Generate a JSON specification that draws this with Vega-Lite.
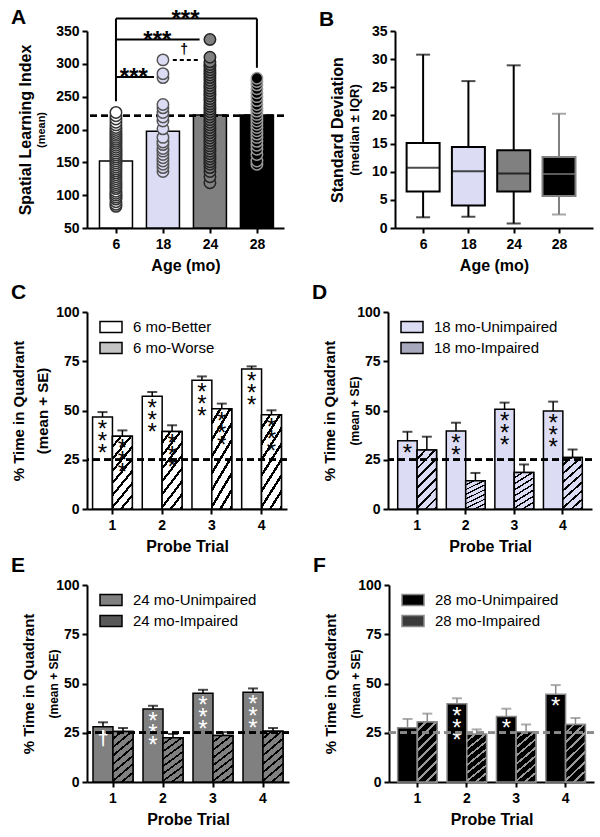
{
"$schema": "https://vega.github.io/schema/vega-lite/v6.json",
"background": "white",
"padding": {"left": 11, "top": 6, "right": 2, "bottom": 2},
"config": {
  "font": "Liberation Sans",
  "view": {"stroke": null},
  "axis": {"domainColor": "black", "domainWidth": 2, "tickColor": "black", "tickWidth": 2, "tickSize": 5, "labelFont": "Liberation Sans", "labelFontSize": 14, "labelFontWeight": "bold", "labelColor": "black", "titleFont": "Liberation Sans", "titleFontSize": 16, "titleFontWeight": "bold", "titleColor": "black", "grid": false, "labelPadding": 3, "labelOverlap": false},
  "axisX": {"labelPadding": 4, "titlePadding": 6, "labelAngle": 0},
  "title": {"anchor": "start", "frame": "group", "fontSize": 21, "fontWeight": "bold", "color": "black", "dx": -76, "offset": 2, "font": "Liberation Sans"},
  "legend": {"orient": "none", "legendX": 12, "legendY": 3, "symbolType": "M-1,-0.5H1V0.5H-1Z", "symbolSize": 484, "symbolStrokeWidth": 1.5, "labelFontSize": 15, "labelColor": "black", "labelOffset": 10, "rowPadding": 0, "labelFont": "Liberation Sans"}
},
"datasets": {
  "aMeans": [{"pos": 1, "mean": 152}, {"pos": 2, "mean": 197.5}, {"pos": 3, "mean": 222}, {"pos": 4, "mean": 222}],
  "aPoints": [
    {"pos": 1, "v": 83}, {"pos": 1, "v": 86}, {"pos": 1, "v": 90}, {"pos": 1, "v": 94}, {"pos": 1, "v": 97}, {"pos": 1, "v": 100}, {"pos": 1, "v": 103}, {"pos": 1, "v": 106}, {"pos": 1, "v": 110}, {"pos": 1, "v": 113}, {"pos": 1, "v": 116}, {"pos": 1, "v": 119}, {"pos": 1, "v": 122}, {"pos": 1, "v": 125}, {"pos": 1, "v": 128}, {"pos": 1, "v": 131}, {"pos": 1, "v": 134}, {"pos": 1, "v": 137}, {"pos": 1, "v": 140}, {"pos": 1, "v": 143}, {"pos": 1, "v": 146}, {"pos": 1, "v": 149}, {"pos": 1, "v": 152}, {"pos": 1, "v": 155}, {"pos": 1, "v": 158}, {"pos": 1, "v": 161}, {"pos": 1, "v": 164}, {"pos": 1, "v": 167}, {"pos": 1, "v": 170}, {"pos": 1, "v": 173}, {"pos": 1, "v": 176}, {"pos": 1, "v": 179}, {"pos": 1, "v": 182}, {"pos": 1, "v": 185}, {"pos": 1, "v": 188}, {"pos": 1, "v": 191}, {"pos": 1, "v": 194}, {"pos": 1, "v": 197}, {"pos": 1, "v": 200}, {"pos": 1, "v": 203}, {"pos": 1, "v": 207}, {"pos": 1, "v": 211}, {"pos": 1, "v": 216}, {"pos": 1, "v": 221}, {"pos": 1, "v": 226},
    {"pos": 2, "v": 136}, {"pos": 2, "v": 142}, {"pos": 2, "v": 147}, {"pos": 2, "v": 152}, {"pos": 2, "v": 157}, {"pos": 2, "v": 162}, {"pos": 2, "v": 167}, {"pos": 2, "v": 171}, {"pos": 2, "v": 177}, {"pos": 2, "v": 181}, {"pos": 2, "v": 188}, {"pos": 2, "v": 201}, {"pos": 2, "v": 213}, {"pos": 2, "v": 219}, {"pos": 2, "v": 226}, {"pos": 2, "v": 233}, {"pos": 2, "v": 238}, {"pos": 2, "v": 279}, {"pos": 2, "v": 285}, {"pos": 2, "v": 306},
    {"pos": 3, "v": 119}, {"pos": 3, "v": 128}, {"pos": 3, "v": 136}, {"pos": 3, "v": 142}, {"pos": 3, "v": 147}, {"pos": 3, "v": 151}, {"pos": 3, "v": 155}, {"pos": 3, "v": 159}, {"pos": 3, "v": 163}, {"pos": 3, "v": 167}, {"pos": 3, "v": 171}, {"pos": 3, "v": 175}, {"pos": 3, "v": 179}, {"pos": 3, "v": 183}, {"pos": 3, "v": 187}, {"pos": 3, "v": 191}, {"pos": 3, "v": 195}, {"pos": 3, "v": 199}, {"pos": 3, "v": 203}, {"pos": 3, "v": 207}, {"pos": 3, "v": 211}, {"pos": 3, "v": 215}, {"pos": 3, "v": 219}, {"pos": 3, "v": 223}, {"pos": 3, "v": 227}, {"pos": 3, "v": 231}, {"pos": 3, "v": 235}, {"pos": 3, "v": 239}, {"pos": 3, "v": 243}, {"pos": 3, "v": 247}, {"pos": 3, "v": 251}, {"pos": 3, "v": 255}, {"pos": 3, "v": 259}, {"pos": 3, "v": 263}, {"pos": 3, "v": 267}, {"pos": 3, "v": 271}, {"pos": 3, "v": 275}, {"pos": 3, "v": 279}, {"pos": 3, "v": 283}, {"pos": 3, "v": 287}, {"pos": 3, "v": 291}, {"pos": 3, "v": 295}, {"pos": 3, "v": 299}, {"pos": 3, "v": 303}, {"pos": 3, "v": 310}, {"pos": 3, "v": 337},
    {"pos": 4, "v": 147}, {"pos": 4, "v": 152}, {"pos": 4, "v": 162}, {"pos": 4, "v": 170}, {"pos": 4, "v": 176}, {"pos": 4, "v": 182}, {"pos": 4, "v": 188}, {"pos": 4, "v": 193}, {"pos": 4, "v": 198}, {"pos": 4, "v": 203}, {"pos": 4, "v": 208}, {"pos": 4, "v": 213}, {"pos": 4, "v": 218}, {"pos": 4, "v": 223}, {"pos": 4, "v": 228}, {"pos": 4, "v": 233}, {"pos": 4, "v": 238}, {"pos": 4, "v": 244}, {"pos": 4, "v": 250}, {"pos": 4, "v": 256}, {"pos": 4, "v": 262}, {"pos": 4, "v": 268}, {"pos": 4, "v": 273}, {"pos": 4, "v": 278}
  ],
  "aBrackets": [
    {"x": 1, "x2": 4, "y": 369, "y2": 369}, {"x": 1, "x2": 1, "y": 369, "y2": 243}, {"x": 4, "x2": 4, "y": 369, "y2": 294},
    {"x": 1, "x2": 2.78, "y": 337, "y2": 337}, {"x": 1, "x2": 1.81, "y": 280, "y2": 280}
  ],
  "aDash": [{"x": 2.21, "x2": 2.78, "y": 306}],
  "aStars": [{"x": 2.48, "y": 369, "label": "***"}, {"x": 1.88, "y": 337, "label": "***"}, {"x": 1.38, "y": 280, "label": "***"}],
  "aDagger": [{"x": 2.45, "y": 306, "label": "†"}],
  "bBox": [
    {"pos": 1, "min": 1.9, "q1": 6.5, "med": 10.7, "q3": 15.1, "max": 30.8},
    {"pos": 2, "min": 2.0, "q1": 4.0, "med": 10.1, "q3": 14.4, "max": 26.1},
    {"pos": 3, "min": 0.8, "q1": 6.5, "med": 9.7, "q3": 13.8, "max": 28.9},
    {"pos": 4, "min": 2.4, "q1": 5.7, "med": 9.6, "q3": 12.6, "max": 20.3}
  ],
  "cData": [
    {"trial": 1, "group": "6 mo-Better", "mean": 46.7, "upper": 49.2, "stars": "*\n*\n*"},
    {"trial": 2, "group": "6 mo-Better", "mean": 57.2, "upper": 59.4, "stars": "*\n*\n*"},
    {"trial": 3, "group": "6 mo-Better", "mean": 65.3, "upper": 67.3, "stars": "*\n*\n*"},
    {"trial": 4, "group": "6 mo-Better", "mean": 71.1, "upper": 72.4, "stars": "*\n*\n*"},
    {"trial": 1, "group": "6 mo-Worse", "mean": 36.9, "upper": 39.9, "stars": "*\n*\n*"},
    {"trial": 2, "group": "6 mo-Worse", "mean": 39.4, "upper": 42.5, "stars": "*\n*\n*"},
    {"trial": 3, "group": "6 mo-Worse", "mean": 50.9, "upper": 53.5, "stars": "*\n*\n*"},
    {"trial": 4, "group": "6 mo-Worse", "mean": 47.9, "upper": 50.1, "stars": "*\n*\n*"}
  ],
  "dData": [
    {"trial": 1, "group": "18 mo-Unimpaired", "mean": 34.6, "upper": 39.2, "stars": "*"},
    {"trial": 2, "group": "18 mo-Unimpaired", "mean": 39.6, "upper": 43.8, "stars": "*\n*"},
    {"trial": 3, "group": "18 mo-Unimpaired", "mean": 50.6, "upper": 54.0, "stars": "*\n*\n*"},
    {"trial": 4, "group": "18 mo-Unimpaired", "mean": 49.7, "upper": 54.5, "stars": "*\n*\n*"},
    {"trial": 1, "group": "18 mo-Impaired", "mean": 29.9, "upper": 36.7, "stars": ""},
    {"trial": 2, "group": "18 mo-Impaired", "mean": 14.3, "upper": 18.3, "stars": ""},
    {"trial": 3, "group": "18 mo-Impaired", "mean": 18.5, "upper": 22.6, "stars": ""},
    {"trial": 4, "group": "18 mo-Impaired", "mean": 26.1, "upper": 30.2, "stars": ""}
  ],
  "eData": [
    {"trial": 1, "group": "24 mo-Unimpaired", "mean": 28.1, "upper": 30.3, "stars": ""},
    {"trial": 2, "group": "24 mo-Unimpaired", "mean": 37.0, "upper": 38.7, "stars": "*\n*\n*"},
    {"trial": 3, "group": "24 mo-Unimpaired", "mean": 45.0, "upper": 46.8, "stars": "*\n*\n*"},
    {"trial": 4, "group": "24 mo-Unimpaired", "mean": 45.5, "upper": 47.5, "stars": "*\n*\n*"},
    {"trial": 1, "group": "24 mo-Impaired", "mean": 25.6, "upper": 27.4, "stars": ""},
    {"trial": 2, "group": "24 mo-Impaired", "mean": 22.4, "upper": 24.4, "stars": ""},
    {"trial": 3, "group": "24 mo-Impaired", "mean": 23.6, "upper": 25.3, "stars": ""},
    {"trial": 4, "group": "24 mo-Impaired", "mean": 25.8, "upper": 27.4, "stars": ""}
  ],
  "eDagger": [{"trial": 1, "group": "24 mo-Unimpaired", "mean": 28.1, "label": "†"}],
  "fData": [
    {"trial": 1, "group": "28 mo-Unimpaired", "mean": 27.5, "upper": 32.0, "stars": ""},
    {"trial": 2, "group": "28 mo-Unimpaired", "mean": 39.7, "upper": 42.5, "stars": "*\n*\n*"},
    {"trial": 3, "group": "28 mo-Unimpaired", "mean": 33.3, "upper": 37.2, "stars": "*"},
    {"trial": 4, "group": "28 mo-Unimpaired", "mean": 44.5, "upper": 49.2, "stars": "*"},
    {"trial": 1, "group": "28 mo-Impaired", "mean": 30.5, "upper": 34.7, "stars": ""},
    {"trial": 2, "group": "28 mo-Impaired", "mean": 24.2, "upper": 26.7, "stars": ""},
    {"trial": 3, "group": "28 mo-Impaired", "mean": 25.5, "upper": 29.2, "stars": ""},
    {"trial": 4, "group": "28 mo-Impaired", "mean": 29.2, "upper": 32.5, "stars": ""}
  ]
},
"spacing": 9,
"resolve": {"scale": {"fill": "independent", "stroke": "independent", "color": "independent", "xOffset": "independent"}, "legend": {"fill": "independent", "stroke": "independent"}},
"vconcat": [
 {"hconcat": [
  {
   "width": 197, "height": 197,
   "title": {"text": "A", "offset": -20},
   "layer": [
    {"layer": [
      {"data": {"name": "aMeans"},
       "mark": {"type": "bar", "width": 33, "stroke": "black", "strokeWidth": 1.5},
       "encoding": {
        "x": {"field": "pos", "type": "quantitative", "scale": {"domain": [0.49, 4.47], "nice": false, "zero": false}, "axis": {"values": [1, 2, 3, 4], "labelExpr": "datum.value == 1 ? '6' : datum.value == 2 ? '18' : datum.value == 3 ? '24' : '28'", "title": "Age (mo)"}},
        "y": {"field": "mean", "type": "quantitative", "scale": {"domain": [50, 350], "nice": false, "zero": false}, "axis": {"values": [50, 150, 250, 350], "labelOverlap": false, "title": "Spatial Learning Index", "titlePadding": 22}},
        "y2": {"datum": 50},
        "fill": {"field": "pos", "type": "ordinal", "scale": {"domain": [1, 2, 3, 4], "range": ["#ffffff", "#dcdcf5", "#808080", "#000000"]}, "legend": null}
       }},
      {"data": {"name": "aMeans"}, "mark": {"type": "rule", "strokeDash": [7, 4], "strokeWidth": 2, "color": "black"}, "encoding": {"y": {"datum": 221}}},
      {"data": {"name": "aBrackets"}, "mark": {"type": "rule", "strokeWidth": 2, "color": "black"},
       "encoding": {"x": {"field": "x", "type": "quantitative"}, "x2": {"field": "x2"}, "y": {"field": "y", "type": "quantitative"}, "y2": {"field": "y2"}}},
      {"data": {"name": "aDash"}, "mark": {"type": "rule", "strokeWidth": 2, "strokeDash": [4, 3], "color": "black"},
       "encoding": {"x": {"field": "x", "type": "quantitative"}, "x2": {"field": "x2"}, "y": {"field": "y", "type": "quantitative"}}},
      {"data": {"name": "aStars"}, "mark": {"type": "text", "fontSize": 24, "fontWeight": "bold", "baseline": "alphabetic", "dy": 8, "fill": "black"},
       "encoding": {"x": {"field": "x", "type": "quantitative"}, "y": {"field": "y", "type": "quantitative"}, "text": {"field": "label"}}},
      {"data": {"name": "aDagger"}, "mark": {"type": "text", "fontSize": 14, "fontWeight": "bold", "baseline": "alphabetic", "dy": -6, "fill": "#000000"},
       "encoding": {"x": {"field": "x", "type": "quantitative"}, "y": {"field": "y", "type": "quantitative"}, "text": {"field": "label"}}}
    ]},
    {"data": {"name": "aPoints"},
     "mark": {"type": "circle", "size": 130, "strokeWidth": 1.5, "opacity": 1},
     "encoding": {
      "x": {"field": "pos", "type": "quantitative"},
      "y": {"field": "v", "type": "quantitative", "axis": {"orient": "left", "values": [100, 200, 300], "labelOverlap": false, "title": "(mean)", "titleFontSize": 11, "domain": false, "titlePadding": 9}},
      "fill": {"field": "pos", "type": "ordinal", "legend": null},
      "stroke": {"field": "pos", "type": "ordinal", "scale": {"domain": [1, 2, 3, 4], "range": ["#333333", "#555555", "#222222", "#9a9a9a"]}, "legend": null}
     }}
   ],
   "resolve": {"axis": {"y": "independent"}}
  },
  {
   "width": 198, "height": 197,
   "title": {"text": "B", "offset": -6},
   "data": {"name": "bBox"},
   "layer": [
    {"layer": [
      {"mark": {"type": "rule", "strokeWidth": 2},
       "encoding": {
        "x": {"field": "pos", "type": "quantitative", "scale": {"domain": [0.49, 4.64], "nice": false, "zero": false}, "axis": {"values": [1, 2, 3, 4], "labelExpr": "datum.value == 1 ? '6' : datum.value == 2 ? '18' : datum.value == 3 ? '24' : '28'", "title": "Age (mo)"}},
        "y": {"field": "min", "type": "quantitative", "scale": {"domain": [0, 35], "nice": false}, "axis": {"values": [0, 10, 20, 30], "labelOverlap": false, "title": "Standard Deviation", "titlePadding": 26}},
        "y2": {"field": "max"},
        "color": {"field": "pos", "type": "ordinal", "scale": {"domain": [1, 2, 3, 4], "range": ["#000000", "#000000", "#000000", "#808080"]}, "legend": null}
       }},
      {"mark": {"type": "tick", "orient": "horizontal", "size": 14, "thickness": 2},
       "encoding": {"x": {"field": "pos", "type": "quantitative"}, "y": {"field": "min", "type": "quantitative"}, "color": {"field": "pos", "type": "ordinal", "legend": null}}},
      {"mark": {"type": "tick", "orient": "horizontal", "size": 14, "thickness": 2},
       "encoding": {"x": {"field": "pos", "type": "quantitative"}, "y": {"field": "max", "type": "quantitative"}, "color": {"field": "pos", "type": "ordinal", "legend": null}}},
      {"mark": {"type": "bar", "width": 33, "strokeWidth": 2},
       "encoding": {"x": {"field": "pos", "type": "quantitative"}, "y": {"field": "q1", "type": "quantitative"}, "y2": {"field": "q3"},
        "fill": {"field": "pos", "type": "ordinal", "scale": {"domain": [1, 2, 3, 4], "range": ["#ffffff", "#dcdcf5", "#808080", "#000000"]}, "legend": null},
        "stroke": {"field": "pos", "type": "ordinal", "scale": {"domain": [1, 2, 3, 4], "range": ["#000000", "#000000", "#000000", "#808080"]}, "legend": null}}}
    ]},
    {"mark": {"type": "tick", "orient": "horizontal", "size": 33, "thickness": 2},
     "encoding": {"x": {"field": "pos", "type": "quantitative"},
      "y": {"field": "med", "type": "quantitative", "axis": {"orient": "left", "values": [5, 15, 25, 35], "labelOverlap": false, "title": "(median ± IQR)", "titleFontSize": 13, "domain": false, "titlePadding": 10}},
      "color": {"field": "pos", "type": "ordinal", "legend": null}}}
   ],
   "resolve": {"axis": {"y": "independent"}}
  }
 ], "spacing": 34,
 "resolve": {"scale": {"fill": "independent", "stroke": "independent", "color": "independent", "xOffset": "independent"}, "legend": {"fill": "independent", "stroke": "independent"}}},
 {"vconcat": [
 {"hconcat": [
  {
   "width": 200, "height": 197,
   "title": {"text": "C"},
   "data": {"name": "cData"},
   "layer": [
    {"layer": [
      {"mark": {"type": "bar", "strokeWidth": 1.5},
       "encoding": {
        "x": {"field": "trial", "type": "ordinal", "scale": {"paddingInner": 0.2, "paddingOuter": 0.112}, "axis": {"title": "Probe Trial"}},
        "xOffset": {"field": "group", "type": "nominal", "scale": {"domain": ["6 mo-Better", "6 mo-Worse"], "paddingInner": 0, "paddingOuter": 0}},
        "y": {"field": "mean", "type": "quantitative", "scale": {"domain": [0, 100]}, "axis": {"values": [0, 25, 50, 75, 100], "title": "% Time in Quadrant", "titleFontSize": 15, "titlePadding": 29}},
        "fill": {"field": "group", "type": "nominal", "scale": {"domain": ["6 mo-Better", "6 mo-Worse"], "range": ["#ffffff", "#c4c4c4"]}, "legend": {"title": null}},
        "stroke": {"field": "group", "type": "nominal", "scale": {"domain": ["6 mo-Better", "6 mo-Worse"], "range": ["#000000", "#000000"]}, "legend": {"title": null}}
       }},
      {"transform": [{"filter": "datum.group == '6 mo-Worse'"}],
       "mark": {"type": "bar", "stroke": "black", "strokeWidth": 1.5, "fill": {"gradient": "linear", "x1": 0, "y1": 0, "x2": 0.4, "y2": 1.2, "stops": [{"offset": 0, "color": "#ffffff"}, {"offset": 0.09, "color": "#ffffff"}, {"offset": 0.09, "color": "#000000"}, {"offset": 0.125, "color": "#000000"}, {"offset": 0.125, "color": "#ffffff"}, {"offset": 0.215, "color": "#ffffff"}, {"offset": 0.215, "color": "#000000"}, {"offset": 0.25, "color": "#000000"}, {"offset": 0.25, "color": "#ffffff"}, {"offset": 0.34, "color": "#ffffff"}, {"offset": 0.34, "color": "#000000"}, {"offset": 0.375, "color": "#000000"}, {"offset": 0.375, "color": "#ffffff"}, {"offset": 0.465, "color": "#ffffff"}, {"offset": 0.465, "color": "#000000"}, {"offset": 0.5, "color": "#000000"}, {"offset": 0.5, "color": "#ffffff"}, {"offset": 0.59, "color": "#ffffff"}, {"offset": 0.59, "color": "#000000"}, {"offset": 0.625, "color": "#000000"}, {"offset": 0.625, "color": "#ffffff"}, {"offset": 0.715, "color": "#ffffff"}, {"offset": 0.715, "color": "#000000"}, {"offset": 0.75, "color": "#000000"}, {"offset": 0.75, "color": "#ffffff"}, {"offset": 0.84, "color": "#ffffff"}, {"offset": 0.84, "color": "#000000"}, {"offset": 0.875, "color": "#000000"}, {"offset": 0.875, "color": "#ffffff"}, {"offset": 0.965, "color": "#ffffff"}, {"offset": 0.965, "color": "#000000"}, {"offset": 1, "color": "#000000"}]}},
       "encoding": {"x": {"field": "trial", "type": "ordinal"}, "xOffset": {"field": "group", "type": "nominal"}, "y": {"field": "mean", "type": "quantitative"}}},
      {"mark": {"type": "rule", "strokeWidth": 1.5, "color": "black"},
       "encoding": {"x": {"field": "trial", "type": "ordinal"}, "xOffset": {"field": "group", "type": "nominal"}, "y": {"field": "mean", "type": "quantitative"}, "y2": {"field": "upper"}}},
      {"transform": [{"filter": "datum.stars != ''"}],
       "mark": {"type": "text", "lineBreak": "\n", "fontSize": 24, "lineHeight": 12, "baseline": "top", "dy": 1, "fill": "black"},
       "encoding": {"x": {"field": "trial", "type": "ordinal"}, "xOffset": {"field": "group", "type": "nominal"}, "y": {"field": "mean", "type": "quantitative"}, "text": {"field": "stars"}}},
      {"mark": {"type": "rule", "strokeDash": [7, 4], "strokeWidth": 2, "color": "black"}, "encoding": {"y": {"datum": 25}}}
    ]},
    {"mark": {"type": "tick", "orient": "horizontal", "size": 10, "thickness": 2, "color": "black"},
     "encoding": {"x": {"field": "trial", "type": "ordinal"}, "xOffset": {"field": "group", "type": "nominal"},
      "y": {"field": "upper", "type": "quantitative", "axis": {"orient": "left", "title": "(mean + SE)", "titleFontSize": 15, "labels": false, "ticks": false, "domain": false, "titlePadding": 37}}}}
   ],
   "resolve": {"axis": {"y": "independent"}}
  },
  {
   "width": 204, "height": 197,
   "title": {"text": "D"},
   "data": {"name": "dData"},
   "layer": [
    {"layer": [
      {"mark": {"type": "bar", "strokeWidth": 1.5},
       "encoding": {
        "x": {"field": "trial", "type": "ordinal", "scale": {"paddingInner": 0.2, "paddingOuter": 0.2}, "axis": {"title": "Probe Trial"}},
        "xOffset": {"field": "group", "type": "nominal", "scale": {"domain": ["18 mo-Unimpaired", "18 mo-Impaired"], "paddingInner": 0, "paddingOuter": 0}},
        "y": {"field": "mean", "type": "quantitative", "scale": {"domain": [0, 100]}, "axis": {"values": [0, 25, 50, 75, 100], "title": "% Time in Quadrant", "titleFontSize": 15, "titlePadding": 19}},
        "fill": {"field": "group", "type": "nominal", "scale": {"domain": ["18 mo-Unimpaired", "18 mo-Impaired"], "range": ["#dcdcf5", "#a8a8bc"]}, "legend": {"title": null}},
        "stroke": {"field": "group", "type": "nominal", "scale": {"domain": ["18 mo-Unimpaired", "18 mo-Impaired"], "range": ["#000000", "#000000"]}, "legend": {"title": null}}
       }},
      {"transform": [{"filter": "datum.group == '18 mo-Impaired'"}],
       "mark": {"type": "bar", "stroke": "black", "strokeWidth": 1.5, "fill": {"gradient": "linear", "x1": 0, "y1": 0, "x2": 0.4, "y2": 1.2, "stops": [{"offset": 0, "color": "#dcdcf5"}, {"offset": 0.09, "color": "#dcdcf5"}, {"offset": 0.09, "color": "#000000"}, {"offset": 0.125, "color": "#000000"}, {"offset": 0.125, "color": "#dcdcf5"}, {"offset": 0.215, "color": "#dcdcf5"}, {"offset": 0.215, "color": "#000000"}, {"offset": 0.25, "color": "#000000"}, {"offset": 0.25, "color": "#dcdcf5"}, {"offset": 0.34, "color": "#dcdcf5"}, {"offset": 0.34, "color": "#000000"}, {"offset": 0.375, "color": "#000000"}, {"offset": 0.375, "color": "#dcdcf5"}, {"offset": 0.465, "color": "#dcdcf5"}, {"offset": 0.465, "color": "#000000"}, {"offset": 0.5, "color": "#000000"}, {"offset": 0.5, "color": "#dcdcf5"}, {"offset": 0.59, "color": "#dcdcf5"}, {"offset": 0.59, "color": "#000000"}, {"offset": 0.625, "color": "#000000"}, {"offset": 0.625, "color": "#dcdcf5"}, {"offset": 0.715, "color": "#dcdcf5"}, {"offset": 0.715, "color": "#000000"}, {"offset": 0.75, "color": "#000000"}, {"offset": 0.75, "color": "#dcdcf5"}, {"offset": 0.84, "color": "#dcdcf5"}, {"offset": 0.84, "color": "#000000"}, {"offset": 0.875, "color": "#000000"}, {"offset": 0.875, "color": "#dcdcf5"}, {"offset": 0.965, "color": "#dcdcf5"}, {"offset": 0.965, "color": "#000000"}, {"offset": 1, "color": "#000000"}]}},
       "encoding": {"x": {"field": "trial", "type": "ordinal"}, "xOffset": {"field": "group", "type": "nominal"}, "y": {"field": "mean", "type": "quantitative"}}},
      {"mark": {"type": "rule", "strokeWidth": 1.5, "color": "black"},
       "encoding": {"x": {"field": "trial", "type": "ordinal"}, "xOffset": {"field": "group", "type": "nominal"}, "y": {"field": "mean", "type": "quantitative"}, "y2": {"field": "upper"}}},
      {"transform": [{"filter": "datum.stars != ''"}],
       "mark": {"type": "text", "lineBreak": "\n", "fontSize": 24, "lineHeight": 12, "baseline": "top", "dy": 1, "fill": "black"},
       "encoding": {"x": {"field": "trial", "type": "ordinal"}, "xOffset": {"field": "group", "type": "nominal"}, "y": {"field": "mean", "type": "quantitative"}, "text": {"field": "stars"}}},
      {"mark": {"type": "rule", "strokeDash": [7, 4], "strokeWidth": 2, "color": "black"}, "encoding": {"y": {"datum": 25}}}
    ]},
    {"mark": {"type": "tick", "orient": "horizontal", "size": 10, "thickness": 2, "color": "black"},
     "encoding": {"x": {"field": "trial", "type": "ordinal"}, "xOffset": {"field": "group", "type": "nominal"},
      "y": {"field": "upper", "type": "quantitative", "axis": {"orient": "left", "title": "(mean + SE)", "titleFontSize": 12, "labels": false, "ticks": false, "domain": false, "titlePadding": 27}}}}
   ],
   "resolve": {"axis": {"y": "independent"}}
  }
 ], "spacing": 24,
 "resolve": {"scale": {"fill": "independent", "stroke": "independent", "color": "independent", "xOffset": "independent"}, "legend": {"fill": "independent", "stroke": "independent"}}},
 {"hconcat": [
  {
   "width": 202, "height": 197,
   "title": {"text": "E"},
   "data": {"name": "eData"},
   "layer": [
    {"layer": [
      {"mark": {"type": "bar", "strokeWidth": 1.5},
       "encoding": {
        "x": {"field": "trial", "type": "ordinal", "scale": {"paddingInner": 0.2, "paddingOuter": 0.12}, "axis": {"title": "Probe Trial"}},
        "xOffset": {"field": "group", "type": "nominal", "scale": {"domain": ["24 mo-Unimpaired", "24 mo-Impaired"], "paddingInner": 0, "paddingOuter": 0}},
        "y": {"field": "mean", "type": "quantitative", "scale": {"domain": [0, 100]}, "axis": {"values": [0, 25, 50, 75, 100], "title": "% Time in Quadrant", "titleFontSize": 15, "titlePadding": 19}},
        "fill": {"field": "group", "type": "nominal", "scale": {"domain": ["24 mo-Unimpaired", "24 mo-Impaired"], "range": ["#808080", "#585858"]}, "legend": {"title": null}},
        "stroke": {"field": "group", "type": "nominal", "scale": {"domain": ["24 mo-Unimpaired", "24 mo-Impaired"], "range": ["#000000", "#000000"]}, "legend": {"title": null}}
       }},
      {"transform": [{"filter": "datum.group == '24 mo-Impaired'"}],
       "mark": {"type": "bar", "stroke": "black", "strokeWidth": 1.5, "fill": {"gradient": "linear", "x1": 0, "y1": 0, "x2": 0.4, "y2": 1.2, "stops": [{"offset": 0, "color": "#808080"}, {"offset": 0.09, "color": "#808080"}, {"offset": 0.09, "color": "#000000"}, {"offset": 0.125, "color": "#000000"}, {"offset": 0.125, "color": "#808080"}, {"offset": 0.215, "color": "#808080"}, {"offset": 0.215, "color": "#000000"}, {"offset": 0.25, "color": "#000000"}, {"offset": 0.25, "color": "#808080"}, {"offset": 0.34, "color": "#808080"}, {"offset": 0.34, "color": "#000000"}, {"offset": 0.375, "color": "#000000"}, {"offset": 0.375, "color": "#808080"}, {"offset": 0.465, "color": "#808080"}, {"offset": 0.465, "color": "#000000"}, {"offset": 0.5, "color": "#000000"}, {"offset": 0.5, "color": "#808080"}, {"offset": 0.59, "color": "#808080"}, {"offset": 0.59, "color": "#000000"}, {"offset": 0.625, "color": "#000000"}, {"offset": 0.625, "color": "#808080"}, {"offset": 0.715, "color": "#808080"}, {"offset": 0.715, "color": "#000000"}, {"offset": 0.75, "color": "#000000"}, {"offset": 0.75, "color": "#808080"}, {"offset": 0.84, "color": "#808080"}, {"offset": 0.84, "color": "#000000"}, {"offset": 0.875, "color": "#000000"}, {"offset": 0.875, "color": "#808080"}, {"offset": 0.965, "color": "#808080"}, {"offset": 0.965, "color": "#000000"}, {"offset": 1, "color": "#000000"}]}},
       "encoding": {"x": {"field": "trial", "type": "ordinal"}, "xOffset": {"field": "group", "type": "nominal"}, "y": {"field": "mean", "type": "quantitative"}}},
      {"mark": {"type": "rule", "strokeWidth": 1.5, "color": "black"},
       "encoding": {"x": {"field": "trial", "type": "ordinal"}, "xOffset": {"field": "group", "type": "nominal"}, "y": {"field": "mean", "type": "quantitative"}, "y2": {"field": "upper"}}},
      {"transform": [{"filter": "datum.stars != ''"}],
       "mark": {"type": "text", "lineBreak": "\n", "fontSize": 24, "lineHeight": 12, "baseline": "top", "dy": 1, "fill": "white"},
       "encoding": {"x": {"field": "trial", "type": "ordinal"}, "xOffset": {"field": "group", "type": "nominal"}, "y": {"field": "mean", "type": "quantitative"}, "text": {"field": "stars"}}},
      {"data": {"name": "eDagger"},
       "mark": {"type": "text", "fontSize": 20, "fontWeight": "bold", "baseline": "top", "dy": 2, "fill": "white"},
       "encoding": {"x": {"field": "trial", "type": "ordinal"}, "xOffset": {"field": "group", "type": "nominal"}, "y": {"field": "mean", "type": "quantitative"}, "text": {"field": "label"}}},
      {"mark": {"type": "rule", "strokeDash": [7, 4], "strokeWidth": 2, "color": "black"}, "encoding": {"y": {"datum": 25}}}
    ]},
    {"mark": {"type": "tick", "orient": "horizontal", "size": 10, "thickness": 2, "color": "black"},
     "encoding": {"x": {"field": "trial", "type": "ordinal"}, "xOffset": {"field": "group", "type": "nominal"},
      "y": {"field": "upper", "type": "quantitative", "axis": {"orient": "left", "title": "(mean + SE)", "titleFontSize": 12, "labels": false, "ticks": false, "domain": false, "titlePadding": 27}}}}
   ],
   "resolve": {"axis": {"y": "independent"}}
  },
  {
   "width": 205, "height": 197,
   "title": {"text": "F"},
   "data": {"name": "fData"},
   "layer": [
    {"layer": [
      {"mark": {"type": "bar", "strokeWidth": 1.5},
       "encoding": {
        "x": {"field": "trial", "type": "ordinal", "scale": {"paddingInner": 0.2, "paddingOuter": 0.175}, "axis": {"title": "Probe Trial"}},
        "xOffset": {"field": "group", "type": "nominal", "scale": {"domain": ["28 mo-Unimpaired", "28 mo-Impaired"], "paddingInner": 0, "paddingOuter": 0}},
        "y": {"field": "mean", "type": "quantitative", "scale": {"domain": [0, 100]}, "axis": {"values": [0, 25, 50, 75, 100], "title": "% Time in Quadrant", "titleFontSize": 15, "titlePadding": 19}},
        "fill": {"field": "group", "type": "nominal", "scale": {"domain": ["28 mo-Unimpaired", "28 mo-Impaired"], "range": ["#000000", "#3a3a3a"]}, "legend": {"title": null}},
        "stroke": {"field": "group", "type": "nominal", "scale": {"domain": ["28 mo-Unimpaired", "28 mo-Impaired"], "range": ["#8a8a8a", "#8a8a8a"]}, "legend": {"title": null}}
       }},
      {"transform": [{"filter": "datum.group == '28 mo-Impaired'"}],
       "mark": {"type": "bar", "stroke": "#8a8a8a", "strokeWidth": 1.5, "fill": {"gradient": "linear", "x1": 0, "y1": 0, "x2": 0.4, "y2": 1.2, "stops": [{"offset": 0, "color": "#000000"}, {"offset": 0.09, "color": "#000000"}, {"offset": 0.09, "color": "#9a9a9a"}, {"offset": 0.125, "color": "#9a9a9a"}, {"offset": 0.125, "color": "#000000"}, {"offset": 0.215, "color": "#000000"}, {"offset": 0.215, "color": "#9a9a9a"}, {"offset": 0.25, "color": "#9a9a9a"}, {"offset": 0.25, "color": "#000000"}, {"offset": 0.34, "color": "#000000"}, {"offset": 0.34, "color": "#9a9a9a"}, {"offset": 0.375, "color": "#9a9a9a"}, {"offset": 0.375, "color": "#000000"}, {"offset": 0.465, "color": "#000000"}, {"offset": 0.465, "color": "#9a9a9a"}, {"offset": 0.5, "color": "#9a9a9a"}, {"offset": 0.5, "color": "#000000"}, {"offset": 0.59, "color": "#000000"}, {"offset": 0.59, "color": "#9a9a9a"}, {"offset": 0.625, "color": "#9a9a9a"}, {"offset": 0.625, "color": "#000000"}, {"offset": 0.715, "color": "#000000"}, {"offset": 0.715, "color": "#9a9a9a"}, {"offset": 0.75, "color": "#9a9a9a"}, {"offset": 0.75, "color": "#000000"}, {"offset": 0.84, "color": "#000000"}, {"offset": 0.84, "color": "#9a9a9a"}, {"offset": 0.875, "color": "#9a9a9a"}, {"offset": 0.875, "color": "#000000"}, {"offset": 0.965, "color": "#000000"}, {"offset": 0.965, "color": "#9a9a9a"}, {"offset": 1, "color": "#9a9a9a"}]}},
       "encoding": {"x": {"field": "trial", "type": "ordinal"}, "xOffset": {"field": "group", "type": "nominal"}, "y": {"field": "mean", "type": "quantitative"}}},
      {"mark": {"type": "rule", "strokeWidth": 1.5, "color": "#8a8a8a"},
       "encoding": {"x": {"field": "trial", "type": "ordinal"}, "xOffset": {"field": "group", "type": "nominal"}, "y": {"field": "mean", "type": "quantitative"}, "y2": {"field": "upper"}}},
      {"transform": [{"filter": "datum.stars != ''"}],
       "mark": {"type": "text", "lineBreak": "\n", "fontSize": 24, "lineHeight": 12, "baseline": "top", "dy": 1, "fill": "white"},
       "encoding": {"x": {"field": "trial", "type": "ordinal"}, "xOffset": {"field": "group", "type": "nominal"}, "y": {"field": "mean", "type": "quantitative"}, "text": {"field": "stars"}}},
      {"mark": {"type": "rule", "strokeDash": [7, 4], "strokeWidth": 2, "color": "#8a8a8a"}, "encoding": {"y": {"datum": 25}}}
    ]},
    {"mark": {"type": "tick", "orient": "horizontal", "size": 10, "thickness": 2, "color": "#8a8a8a"},
     "encoding": {"x": {"field": "trial", "type": "ordinal"}, "xOffset": {"field": "group", "type": "nominal"},
      "y": {"field": "upper", "type": "quantitative", "axis": {"orient": "left", "title": "(mean + SE)", "titleFontSize": 12, "labels": false, "ticks": false, "domain": false, "titlePadding": 27}}}}
   ],
   "resolve": {"axis": {"y": "independent"}}
  }
 ], "spacing": 23,
 "resolve": {"scale": {"fill": "independent", "stroke": "independent", "color": "independent", "xOffset": "independent"}, "legend": {"fill": "independent", "stroke": "independent"}}}
 ], "spacing": 1,
 "resolve": {"scale": {"fill": "independent", "stroke": "independent", "color": "independent", "xOffset": "independent"}, "legend": {"fill": "independent", "stroke": "independent"}}}
]
}
